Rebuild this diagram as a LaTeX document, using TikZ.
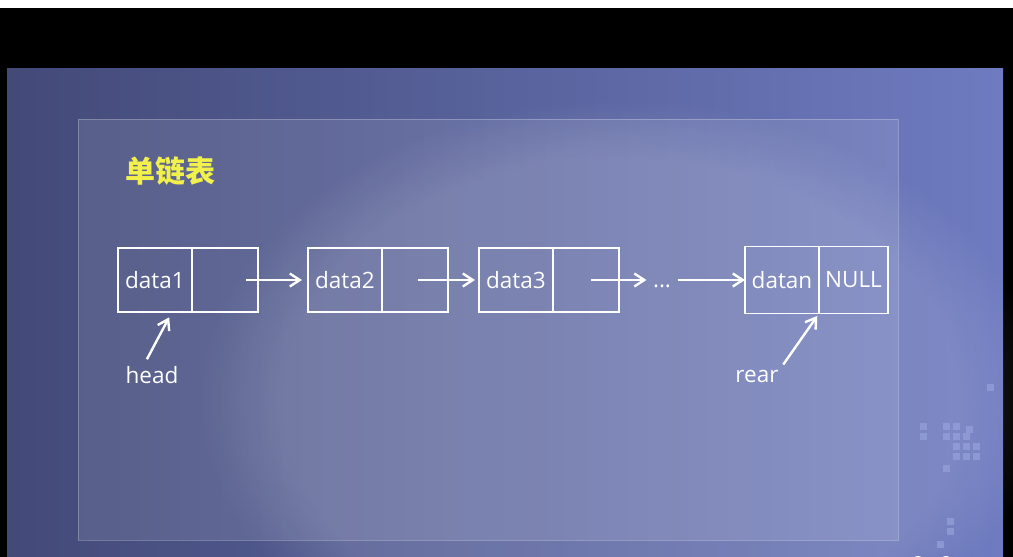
\documentclass[tikz,border=0pt]{standalone}
\usepackage{fontspec}
\setmainfont{Open Sans}
\newfontfamily\cjkfont{Noto Sans CJK SC}
\usepackage{tikz}
\usetikzlibrary{arrows.meta,positioning,calc,fadings}
\definecolor{slidedark}{HTML}{434A78}
\definecolor{slidemid}{HTML}{5E6AAC}
\definecolor{slidelight}{HTML}{6E7BC0}
\definecolor{titleyellow}{HTML}{F2F04A}
\definecolor{pixelblue}{HTML}{95A2DA}

\begin{document}
\begin{tikzpicture}[
    x=1pt, y=-1pt,
    every node/.style={font=\fontsize{22.5}{25}\selectfont, text=white},
    datafield/.style={draw=white, line width=1.8pt, outer sep=0pt, inner sep=0pt, minimum width=74pt, minimum height=64pt},
    ptrfield/.style={datafield, minimum width=66pt},
    link/.style={-{Straight Barb[length=10pt,width=13pt]}, white, line width=2.4pt}
]
    \useasboundingbox (0,0) rectangle (1013,557);
    % screen and slide background
    \fill[white] (0,0) rectangle (1013,8);
    \fill[black] (0,8) rectangle (1013,557);
    \shade[left color=slidedark, middle color=slidemid, right color=slidelight] (7,68) rectangle (1003,557);
    \fill[white, fill opacity=0.12, path fading=circle with fuzzy edge 20 percent] (620,400) ellipse (420pt and 300pt);
    \foreach \px/\py in {987/384, 920/423, 943/423, 953/423, 966/426, 920/433, 943/433, 953/433, 963/433,
                         953/443, 963/443, 973/443, 953/453, 963/453, 973/453, 943/465, 947/518, 947/528, 937/541}
        \fill[pixelblue, opacity=0.7] (\px,\py) rectangle ++(7,7);
    \fill[white] (918,562) circle (6pt);
    \fill[white] (946,562) circle (6pt);
    \draw[white, draw opacity=0.25, fill=white, fill opacity=0.1, line width=1pt] (78,119) rectangle (898,540);

    \node[font=\cjkfont\bfseries\fontsize{30}{34}\selectfont, text=titleyellow, anchor=west] (title) at (122,171) {单链表};

    \node[datafield] (d1) at (155,280) {data1};
    \node[ptrfield, right=0pt of d1] (p1) {};
    \node[datafield] (d2) at (345,280) {data2};
    \node[ptrfield, right=0pt of d2] (p2) {};
    \node[datafield] (d3) at (516,280) {data3};
    \node[ptrfield, right=0pt of d3] (p3) {};
    \node (dots) at (662,286) {...};
    \node[datafield, minimum height=67pt] (dn) at (782,280) {datan};
    \node[ptrfield, minimum height=67pt, minimum width=69pt, right=0pt of dn] (pn) {NULL};
    \node (head) at (152,375) {head};
    \node (rear) at (757,376) {rear};

    \draw[link, shorten <=21pt, shorten >=6pt] (p1.center) -- (d2.west);
    \draw[link, shorten <=3pt, shorten >=4pt] (p2.center) -- (d3.west);
    \draw[link, shorten <=5pt, shorten >=3pt] (p3.center) -- (p3.center -| dots.west);
    \draw[link, shorten <=3pt] (dots.east |- dn.west) -- (dn.west);
    \draw[link, shorten <=4pt, shorten >=6pt] ([xshift=-7pt]head.north) -- ([xshift=17pt]d1.south);
    \draw[link, shorten <=2pt, shorten >=3pt] (rear.north east) -- (pn.south west);
\end{tikzpicture}
\end{document}
